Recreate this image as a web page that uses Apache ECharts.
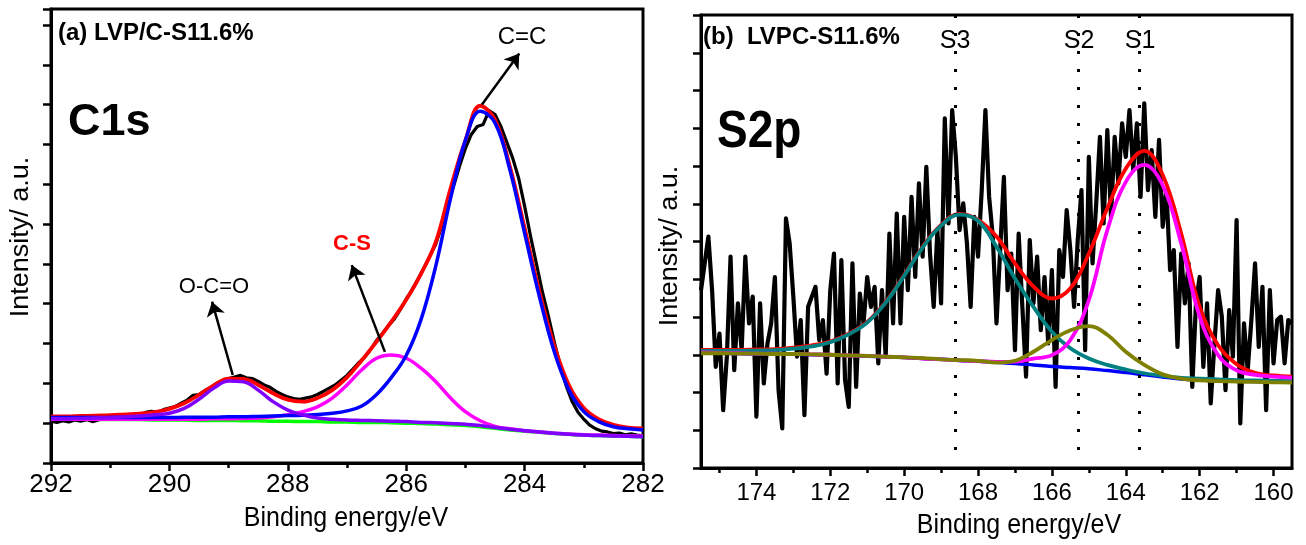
<!DOCTYPE html>
<html><head><meta charset="utf-8">
<script src="https://cdn.jsdelivr.net/npm/echarts@6.0.0/dist/echarts.min.js"></script>
<style>html,body{margin:0;padding:0;background:#fff}#c{width:1306px;height:545px}</style>
</head><body><div id="c"></div>
<script>
// ---------- Panel (a): C1s ----------
const fitEnergyA = [292,291.75,291.5,291.25,291,290.75,290.5,290.25,290,289.75,289.5,289.25,289,288.75,288.5,288.25,288,287.75,287.5,287.25,287,286.75,286.5,286.25,286,285.75,285.5,285.25,285,284.75,284.5,284.25,284,283.75,283.5,283.25,283,282.75,282.5,282.25,282];
const envelopeA = [1.17,1.17,1.18,1.19,1.20,1.22,1.24,1.28,1.36,1.50,1.71,1.95,2.12,2.11,1.96,1.75,1.59,1.54,1.63,1.83,2.15,2.58,3.05,3.55,4.10,4.75,5.55,6.90,8.10,8.97,8.62,7.45,5.90,4.30,2.95,1.95,1.38,1.10,0.96,0.89,0.87];
const ccA = [1.14,1.14,1.14,1.14,1.14,1.14,1.14,1.14,1.14,1.15,1.15,1.15,1.16,1.16,1.17,1.18,1.19,1.20,1.22,1.25,1.31,1.43,1.72,2.15,2.70,3.60,4.95,6.65,8.10,8.83,8.54,7.37,5.77,4.18,2.80,1.83,1.29,1.04,0.91,0.86,0.83];
const csA = [1.10,1.10,1.10,1.10,1.10,1.10,1.10,1.10,1.10,1.10,1.10,1.11,1.11,1.12,1.13,1.16,1.21,1.29,1.41,1.63,1.96,2.34,2.63,2.71,2.63,2.38,2.04,1.63,1.29,1.06,0.92,0.86,0.81,0.78,0.75,0.73,0.71,0.70,0.69,0.68,0.68];
const occA = [1.11,1.11,1.12,1.13,1.14,1.16,1.18,1.21,1.25,1.37,1.60,1.88,2.06,2.04,1.83,1.54,1.33,1.21,1.13,1.10,1.08,1.07,1.06,1.05,1.04,1.02,1.01,0.99,0.97,0.94,0.89,0.85,0.81,0.78,0.75,0.72,0.70,0.69,0.68,0.67,0.66];
const backgroundA = [1.10,1.10,1.10,1.10,1.09,1.09,1.09,1.08,1.08,1.08,1.07,1.07,1.07,1.06,1.06,1.05,1.05,1.04,1.04,1.03,1.03,1.02,1.02,1.01,1.00,0.99,0.98,0.96,0.94,0.91,0.87,0.83,0.80,0.77,0.74,0.72,0.70,0.69,0.68,0.67,0.66];
const rawEnergyA = [292.0,291.9,291.8,291.7,291.6,291.5,291.4,291.3,291.2,291.1,291.0,290.9,290.8,290.7,290.6,290.5,290.4,290.3,290.2,290.1,290.0,289.9,289.8,289.7,289.6,289.5,289.4,289.3,289.2,289.1,289.0,288.9,288.8,288.7,288.6,288.5,288.4,288.3,288.2,288.1,288.0,287.9,287.8,287.7,287.6,287.5,287.4,287.3,287.2,287.1,287.0,286.9,286.8,286.7,286.6,286.5,286.4,286.3,286.2,286.1,286.0,285.9,285.8,285.7,285.6,285.5,285.4,285.3,285.2,285.1,285.0,284.9,284.8,284.7,284.6,284.5,284.4,284.3,284.2,284.1,284.0,283.9,283.8,283.7,283.6,283.5,283.4,283.3,283.2,283.1,283.0,282.9,282.8,282.7,282.6,282.5,282.4,282.3,282.2,282.1,282.0];
const rawA = [1.05,1.02,1.06,1.03,1.08,1.05,1.09,1.04,1.08,1.12,
1.10,1.15,1.13,1.18,1.22,1.20,1.27,1.30,1.27,1.34,
1.38,1.42,1.50,1.58,1.70,1.72,1.82,1.90,2.00,2.05,
2.12,2.16,2.20,2.14,2.12,2.05,1.96,1.90,1.80,1.72,
1.66,1.62,1.60,1.63,1.66,1.72,1.80,1.88,1.96,2.08,
2.20,2.36,2.52,2.66,2.85,3.08,3.25,3.45,3.62,3.85,
4.12,4.35,4.62,4.90,5.20,5.50,5.95,6.45,6.95,7.45,
7.90,8.25,8.45,8.50,8.85,8.75,8.45,8.05,7.65,7.15,
6.45,5.70,5.00,4.30,3.70,3.05,2.45,1.95,1.55,1.28,
1.10,0.95,0.86,0.80,0.78,0.74,0.75,0.71,0.73,0.70,
0.68];
// arrows: [start, end] in data coordinates (energy, intensity)
const arrowsA = [
  [[284.72, 9.0], [284.09, 10.28]],
  [[288.93, 2.21], [289.28, 4.05]],
  [[286.36, 2.79], [286.92, 4.97]]
];

// ---------- Panel (b): S2p ----------
const fitEnergyB = [175.5,175,174.5,174,173.5,173,172.5,172,171.5,171,170.5,170,169.5,169,168.5,168,167.5,167,166.5,166,165.5,165,164.5,164,163.5,163,162.5,162,161.5,161,160.5,160,159.5];
const envelopeB = [3.13,3.13,3.13,3.14,3.15,3.19,3.25,3.35,3.56,3.87,4.40,5.11,5.86,6.44,6.73,6.57,6.13,5.42,4.81,4.49,4.76,5.68,6.88,7.93,8.40,7.76,6.21,4.27,3.25,2.75,2.52,2.45,2.42];
const s3B = [3.10,3.10,3.10,3.11,3.12,3.16,3.22,3.33,3.54,3.85,4.38,5.09,5.84,6.42,6.71,6.55,5.86,5.02,4.27,3.61,3.17,2.90,2.73,2.61,2.51,2.44,2.39,2.37,2.35,2.33,2.32,2.31,2.30];
const s1B = [3.06,3.05,3.04,3.03,3.03,3.02,3.01,3.00,2.98,2.97,2.95,2.93,2.90,2.88,2.85,2.83,2.81,2.82,2.90,2.99,3.39,4.45,6.30,7.58,8.03,7.49,5.95,4.01,2.99,2.59,2.47,2.42,2.39];
const s2B = [3.04,3.04,3.03,3.03,3.02,3.02,3.01,3.00,2.98,2.97,2.95,2.93,2.91,2.88,2.86,2.84,2.79,2.84,3.08,3.39,3.65,3.76,3.53,3.08,2.73,2.48,2.37,2.32,2.30,2.29,2.28,2.27,2.26];
const backgroundB = [3.04,3.04,3.03,3.02,3.02,3.01,3.00,2.99,2.98,2.96,2.95,2.93,2.90,2.88,2.85,2.83,2.80,2.77,2.73,2.69,2.66,2.63,2.58,2.53,2.47,2.41,2.36,2.33,2.31,2.30,2.29,2.28,2.27];
const rawEnergyB = [175.5,175.4,175.3,175.2,175.1,175.0,174.9,174.8,174.7,174.6,
174.5,174.4,174.3,174.2,174.1,174.0,173.9,173.8,173.7,173.6,
173.5,173.4,173.3,173.2,173.1,173.0,172.9,172.8,172.7,172.6,
172.5,172.4,172.3,172.2,172.1,172.0,171.9,171.8,171.7,171.6,
171.5,171.4,171.3,171.2,171.1,171.0,170.9,170.8,170.7,170.6,
170.5,170.4,170.3,170.2,170.1,170.0,169.9,169.8,169.7,169.6,
169.5,169.4,169.3,169.2,169.1,169.0,168.9,168.8,168.7,168.6,
168.5,168.4,168.3,168.2,168.1,168.0,167.9,167.8,167.7,167.6,
167.5,167.4,167.3,167.2,167.1,167.0,166.9,166.8,166.7,166.6,
166.5,166.4,166.3,166.2,166.1,166.0,165.9,165.8,165.7,165.6,
165.5,165.4,165.3,165.2,165.1,165.0,164.9,164.8,164.7,164.6,
164.5,164.4,164.3,164.2,164.1,164.0,163.9,163.8,163.7,163.6,
163.5,163.4,163.3,163.2,163.1,163.0,162.9,162.8,162.7,162.6,
162.5,162.4,162.3,162.2,162.1,162.0,161.9,161.8,161.7,161.6,
161.5,161.4,161.3,161.2,161.1,161.0,160.9,160.8,160.7,160.6,
160.5,160.4,160.3,160.2,160.1,160.0,159.9,159.8,159.7,159.6,
159.5];
const rawB = [4.71,5.42,6.13,4.71,2.68,3.56,1.53,2.95,5.60,2.59,
4.36,3.12,5.60,3.83,4.54,1.36,4.36,2.24,3.30,3.83,
5.06,2.06,1.05,6.61,5.95,4.54,2.95,3.92,1.40,4.27,
4.54,4.80,3.39,3.92,2.50,4.71,5.68,2.24,5.51,2.33,
1.62,5.42,2.15,4.62,3.83,5.06,4.27,4.80,2.77,4.71,
2.95,6.21,3.83,6.74,3.83,6.65,4.71,7.18,5.06,7.54,
5.60,7.98,5.68,4.27,6.30,4.36,9.26,6.48,9.48,8.24,
6.30,7.01,5.95,4.27,6.65,5.60,7.36,9.48,7.18,6.13,
3.83,5.77,7.71,4.71,5.68,3.12,6.21,4.27,2.42,6.04,
4.36,5.60,3.65,5.06,3.30,5.24,2.15,5.77,5.06,6.83,
5.77,4.27,6.04,7.36,3.12,8.24,5.42,7.01,8.77,6.48,
8.95,6.65,8.77,7.54,9.13,8.24,9.48,7.89,9.13,7.18,
9.66,7.36,8.42,6.65,8.69,6.39,7.36,5.24,5.77,3.21,
5.68,4.36,5.42,2.15,4.36,5.06,2.68,4.36,1.71,3.30,
4.71,4.01,2.06,4.18,2.95,6.57,1.18,3.83,2.59,3.92,
5.42,3.21,4.80,1.53,4.71,2.77,3.92,4.01,2.77,3.92,
3.83];
const majorTicksB = [160,162,164,166,168,170,172,174];
const minorTicksB = [161,163,165,167,169,171,173,175];
const peakPosB = [168.62, 165.28, 163.63];
const peakNamesB = ['S3','S2','S1'];

// ---------- build ----------
const FONT = "'Liberation Sans', Arial, Helvetica, sans-serif";
const chart = echarts.init(document.getElementById('c'), null, {renderer: 'canvas'});
function pairs(xs, ys) { return xs.map((x, i) => [x, ys[i]]); }
function curve(xs, ys, color, xi, yi, z, width, smooth) {
  return { type: 'line', xAxisIndex: xi, yAxisIndex: yi, data: pairs(xs, ys), symbol: 'none', showSymbol: false,
    smooth: smooth, lineStyle: { color: color, width: width, join: 'round' }, itemStyle: { color: color }, z: z, silent: true, animation: false };
}
const axisLineStyle = { show: true, lineStyle: { color: '#000', width: 3 } };
const tickStyle = { color: '#000', width: 2.5 };

const blackA = curve(rawEnergyA, rawA, '#000', 0, 0, 2, 3.2, false);
blackA.markLine = { silent: true, animation: false, symbol: ['none', 'arrow'], symbolSize: 14,
  label: { show: false }, lineStyle: { color: '#000', width: 2.5, type: 'solid' },
  data: arrowsA.map(a => [{ coord: a[0] }, { coord: a[1] }]) };

const blueB = curve(fitEnergyB, backgroundB, '#0000ff', 1, 1, 3, 3.5, 0.4);
blueB.markLine = { silent: true, animation: false, symbol: ['none', 'none'],
  label: { show: false }, lineStyle: { color: '#000', width: 3, type: [3, 15] },
  data: peakPosB.map(e => [{ coord: [e, 12] }, { coord: [e, 0.25] }]) };

function txt(text, x, y, size, opts) {
  opts = opts || {};
  return { type: 'text', x: x, y: y, z: 100, rotation: opts.rot || 0, scaleX: opts.sx || 1, scaleY: opts.sy || 1,
    style: { text: text, x: 0, y: 0, fill: opts.color || '#000', fontSize: size, fontWeight: opts.bold ? 'bold' : 'normal',
      fontFamily: FONT, align: opts.align || 'center', verticalAlign: 'middle' } };
}

const option = {
  backgroundColor: '#fff',
  animation: false,
  grid: [
    { left: 51, top: 9, width: 592, height: 454, show: true, borderColor: '#000', borderWidth: 3, backgroundColor: 'transparent' },
    { left: 701, top: 15, width: 591, height: 453, show: true, borderColor: '#000', borderWidth: 3, backgroundColor: 'transparent' }
  ],
  xAxis: [
    { type: 'value', gridIndex: 0, min: 282, max: 292, interval: 2, inverse: true,
      axisLine: axisLineStyle, axisTick: { show: true, inside: false, length: 8, lineStyle: tickStyle },
      minorTick: { show: true, splitNumber: 2, length: 5, lineStyle: tickStyle },
      axisLabel: { fontFamily: FONT, fontSize: 26, color: '#000', margin: 9 },
      splitLine: { show: false }, minorSplitLine: { show: false } },
    { type: 'value', gridIndex: 1, min: 159.5, max: 175.5, inverse: true,
      axisLine: axisLineStyle, axisTick: { show: true, inside: false, length: 8, lineStyle: tickStyle, customValues: majorTicksB },
      axisLabel: { fontFamily: FONT, fontSize: 24, color: '#000', margin: 13, customValues: majorTicksB },
      splitLine: { show: false } },
    { type: 'value', gridIndex: 1, min: 159.5, max: 175.5, inverse: true, position: 'bottom',
      axisLine: { show: false }, axisTick: { show: true, inside: false, length: 5, lineStyle: tickStyle, customValues: minorTicksB },
      axisLabel: { show: false }, splitLine: { show: false } }
  ],
  yAxis: [
    { type: 'value', gridIndex: 0, min: 0, max: 11.4, interval: 1,
      axisLine: axisLineStyle, axisTick: { show: true, inside: false, length: 8, lineStyle: tickStyle },
      axisLabel: { show: false }, splitLine: { show: false } },
    { type: 'value', gridIndex: 1, min: 0, max: 12, interval: 1,
      axisLine: axisLineStyle, axisTick: { show: true, inside: false, length: 8, lineStyle: tickStyle },
      axisLabel: { show: false }, splitLine: { show: false } }
  ],
  series: [
    blackA,
    curve(fitEnergyA, backgroundA, '#00ff00', 0, 0, 3, 3.5, 0.4),
    curve(fitEnergyA, envelopeA, '#ff0000', 0, 0, 4, 3.8, 0.4),
    curve(fitEnergyA, csA, '#ff00ff', 0, 0, 5, 3.5, 0.4),
    curve(fitEnergyA, ccA, '#0000ff', 0, 0, 6, 3.5, 0.4),
    curve(fitEnergyA, occA, '#8000ff', 0, 0, 7, 3.5, 0.4),
    curve(rawEnergyB, rawB, '#000', 1, 1, 2, 4.2, false),
    blueB,
    curve(fitEnergyB, envelopeB, '#ff0000', 1, 1, 4, 3.8, 0.4),
    curve(fitEnergyB, s3B, '#008080', 1, 1, 5, 3.8, 0.4),
    curve(fitEnergyB, s1B, '#ff00ff', 1, 1, 6, 3.8, 0.4),
    curve(fitEnergyB, s2B, '#808000', 1, 1, 7, 3.8, 0.4)
  ],
  graphic: [
    txt('(a) LVP/C-S11.6%', 58, 33, 24, { bold: true, align: 'left' }),
    txt('C1s', 68, 123, 45, { bold: true, align: 'left' }),
    txt('C=C', 522, 37, 24),
    txt('O-C=O', 214, 287, 22),
    txt('C-S', 352, 244, 22, { bold: true, color: '#ff0000' }),
    txt('Binding energy/eV', 346, 518, 25, { sy: 1.1 }),
    txt('Intensity/ a.u.', 21, 237, 25, { rot: Math.PI / 2, sx: 1.08 }),
    txt('(b)  LVPC-S11.6%', 703, 37, 24, { bold: true, align: 'left' }),
    txt('S2p', 717, 133, 46, { bold: true, align: 'left', sy: 1.12 }),
    txt(peakNamesB[0], 955, 41, 25),
    txt(peakNamesB[1], 1079, 41, 25),
    txt(peakNamesB[2], 1140, 41, 25),
    txt('Binding energy/eV', 1019, 525, 25, { sy: 1.1 }),
    txt('Intensity/ a.u.', 670, 246, 25, { rot: Math.PI / 2, sx: 1.08 })
  ]
};
chart.setOption(option);
</script>
</body></html>
